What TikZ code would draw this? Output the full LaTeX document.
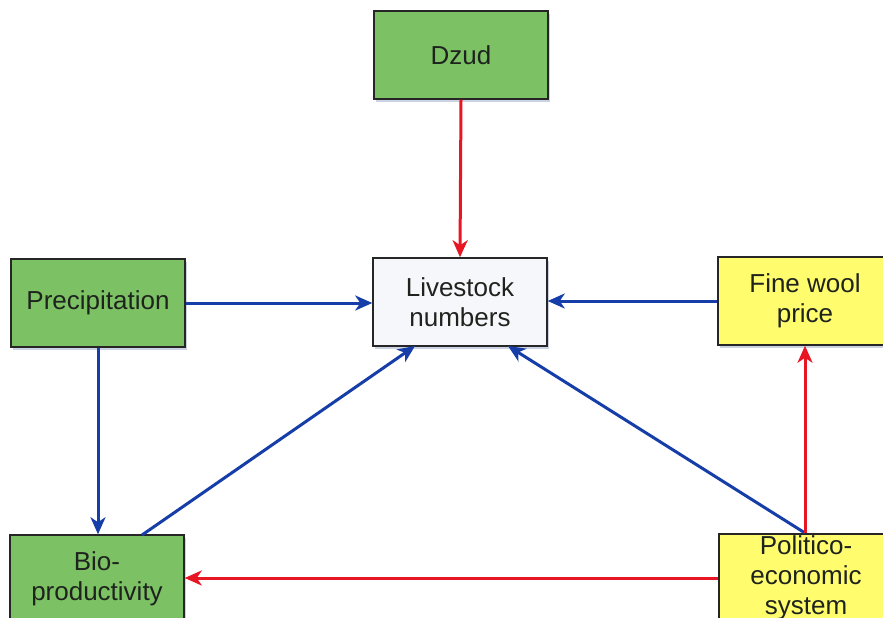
\documentclass[tikz,border=0pt]{standalone}
\usepackage{fontspec}
\setmainfont{Liberation Sans}
\usetikzlibrary{arrows.meta,shadows}
\definecolor{boxgreen}{RGB}{124,194,100}
\definecolor{boxyellow}{RGB}{255,252,110}
\definecolor{boxwhite}{RGB}{246,247,250}
\definecolor{arrblue}{RGB}{22,62,168}
\definecolor{arrred}{RGB}{232,22,34}
\definecolor{shadowc}{RGB}{190,200,220}
\definecolor{txt}{RGB}{30,35,30}
\begin{document}
\begin{tikzpicture}[x=1pt,y=-1pt,
  box/.style={draw=black!85,line width=1.5pt,minimum width=174pt,minimum height=88pt,
    align=center,inner sep=0pt,text=txt,font=\fontsize{26}{30}\selectfont,
    drop shadow={shadow xshift=2pt,shadow yshift=-3pt,fill=shadowc,opacity=0.8}},
  gbox/.style={box,fill=boxgreen},
  ybox/.style={box,fill=boxyellow},
  wbox/.style={box,fill=boxwhite},
  barr/.style={draw=arrblue,line width=3pt,-{Stealth[length=17pt,width=15pt,inset=5pt]}},
  rarr/.style={draw=arrred,line width=3pt,-{Stealth[length=17pt,width=15pt,inset=5pt]}}]
\useasboundingbox (0,0) rectangle (883,618);
\fill[white] (0,0) rectangle (883,618);
\begin{scope}
\clip (0,0) rectangle (883,618);
\node[gbox] (dzud) at (461,55) {Dzud};
\node[wbox] (live) at (460,302) {Livestock\\numbers};
\node[gbox] (prec) at (98,303) {Precipitation};
\node[ybox] (wool) at (805,301) {Fine wool\\price};
\node[gbox] (bio) at (97,579) {Bio-\\productivity};
\node[ybox] (pol) at (806,578) {Politico-\\economic\\system};
\coordinate (livebl) at (415,346);
\coordinate (livebr) at (508,346);
\coordinate (biotop) at (142,535);
\coordinate (poltop) at (805,533);
\draw[rarr] (dzud.south) -- (live.north);
\draw[barr] (prec.east) -- (prec.east -| live.west);
\draw[barr] (wool.west) -- (wool.west -| live.east);
\draw[barr] (prec.south) -- (prec.south |- bio.north);
\draw[barr] (biotop) -- (livebl);
\draw[barr] (poltop) -- (livebr);
\draw[rarr] (poltop) -- (poltop |- wool.south);
\draw[rarr] (pol.west) -- (pol.west -| bio.east);
\end{scope}
\end{tikzpicture}
\end{document}
